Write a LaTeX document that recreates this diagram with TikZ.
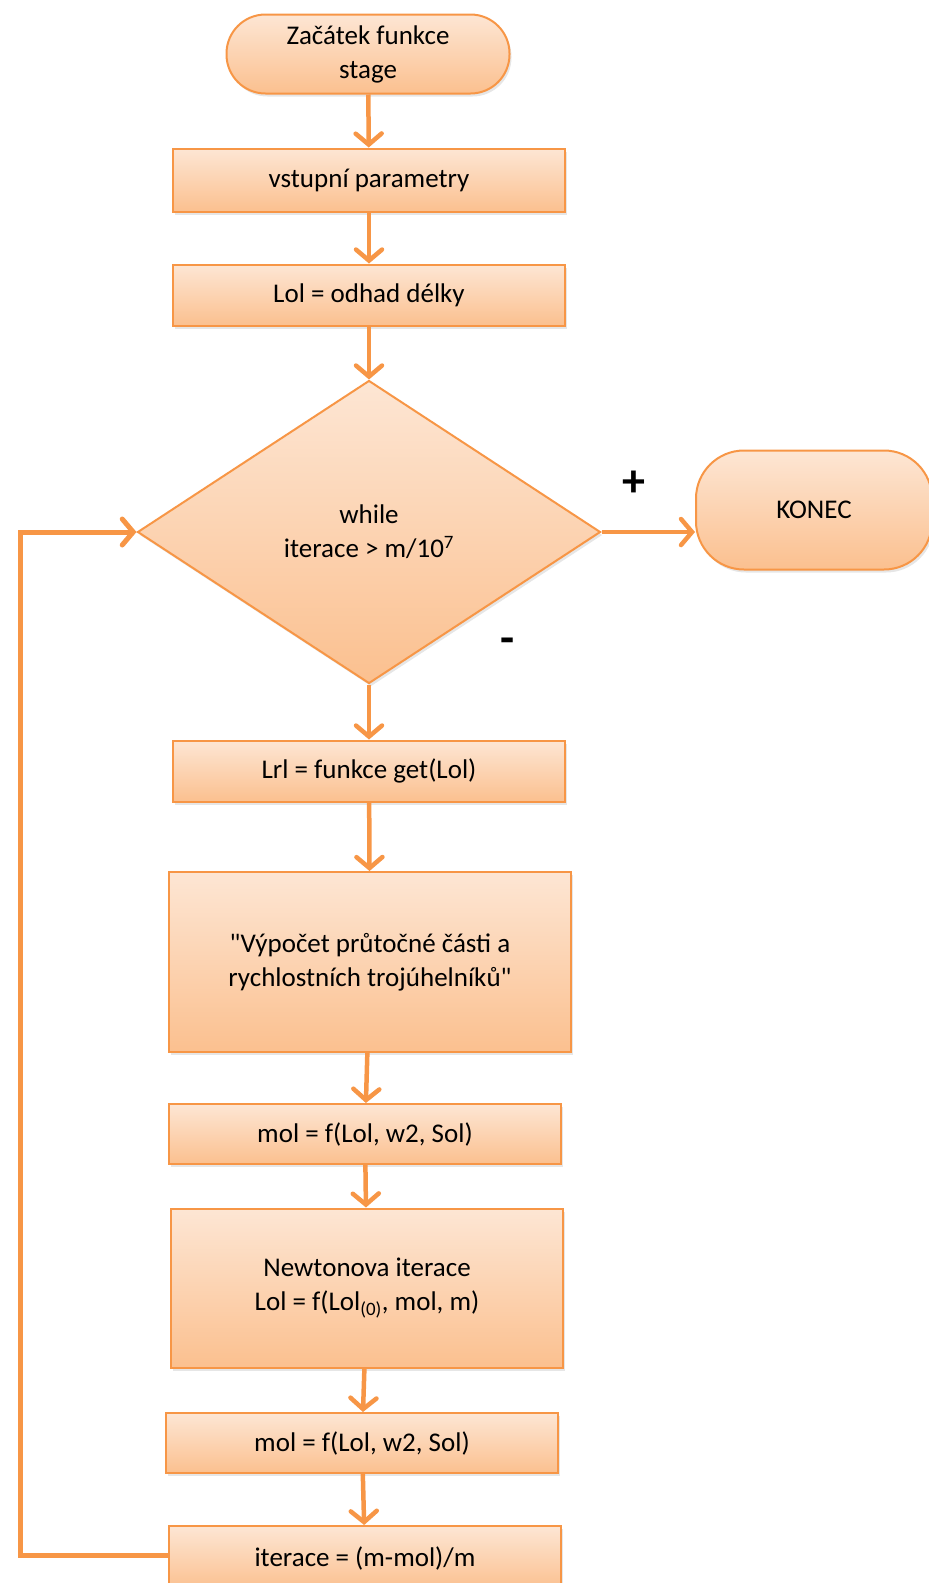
\documentclass[tikz,border=0pt]{standalone}
\usepackage{fontspec}
\setmainfont{Carlito}
\usepackage{tikz}
\usetikzlibrary{shapes,shapes.geometric,arrows.meta,shadows}
\definecolor{oran}{HTML}{F79646}
\definecolor{orantop}{HTML}{FDE6D4}
\definecolor{oranbot}{HTML}{FBC08F}
\tikzstyle{every node}=[font=\fontsize{27}{34}\selectfont]
\tikzstyle{blok}=[draw=oran, line width=2pt, top color=orantop, bottom color=oranbot, align=center, inner sep=0pt, drop shadow={opacity=0.2, shadow xshift=2pt, shadow yshift=-3pt}]
\tikzstyle{krok}=[blok, rectangle, minimum width=392pt]
\tikzstyle{konec}=[blok, rectangle]
\tikzstyle{rozhod}=[blok, diamond, minimum width=463pt, minimum height=303pt]
\tikzstyle{sipka}=[draw=oran, line width=4.5pt, -{Straight Barb[length=11pt, width=26pt, line cap=round]}]
\tikzstyle{znak}=[font=\fontsize{46}{46}\selectfont\bfseries]

\begin{document}
\begin{tikzpicture}[x=1pt, y=-1pt]
\useasboundingbox (0,0) rectangle (929,1583);
\node[konec, minimum width=283pt, minimum height=79pt, rounded corners=39pt] (zac) at (368,54) {Začátek funkce\\stage};
\node[krok, minimum height=63pt] (vst) at (369,180) {vstupní parametry};
\node[krok, minimum height=61pt] (odh) at (369,295) {Lol = odhad délky};
\node[rozhod] (whl) at (369,532) {while\\iterace > m/10\textsuperscript{7}};
\node[konec, minimum width=236pt, minimum height=119pt, rounded corners=48pt] (kon) at (814,510) {KONEC};
\node[krok, minimum height=61pt] (lrl) at (369,771) {Lrl = funkce get(Lol)};
\node[krok, minimum width=402pt, minimum height=180pt] (vyp) at (370,962) {\textquotedbl Výpočet průtočné části a\\rychlostních trojúhelníků\textquotedbl};
\node[krok, minimum height=60pt] (mol1) at (365,1134) {mol = f(Lol, w2, Sol)};
\node[krok, minimum height=159pt] (newt) at (367,1288) {Newtonova iterace\\Lol = f(Lol\textsubscript{(0)}, mol, m)};
\node[krok, minimum height=60pt] (mol2) at (362,1443) {mol = f(Lol, w2, Sol)};
\node[krok, minimum height=64pt] (itr) at (365,1558) {iterace = (m-mol)/m};
\node[znak] (plus) at (634,484) {+};
\node[znak] (minus) at (508,646) {-};
\coordinate (roh1) at (20,1555);
\coordinate (roh2) at (20,532);
\draw[sipka] (zac) -- (vst);
\draw[sipka] (vst) -- (odh);
\draw[sipka] (odh) -- (whl);
\draw[sipka] (whl.east) -- (whl.east -| kon.west);
\draw[sipka] (whl) -- (lrl);
\draw[sipka] (lrl) -- (vyp);
\draw[sipka] (vyp) -- (mol1);
\draw[sipka] (mol1) -- (newt);
\draw[sipka] (newt) -- (mol2);
\draw[sipka] (mol2) -- (itr);
\draw[sipka, line width=5pt] (itr.west |- roh1) -- (roh1) -- (roh2) -- (whl.west);
\end{tikzpicture}
\end{document}
